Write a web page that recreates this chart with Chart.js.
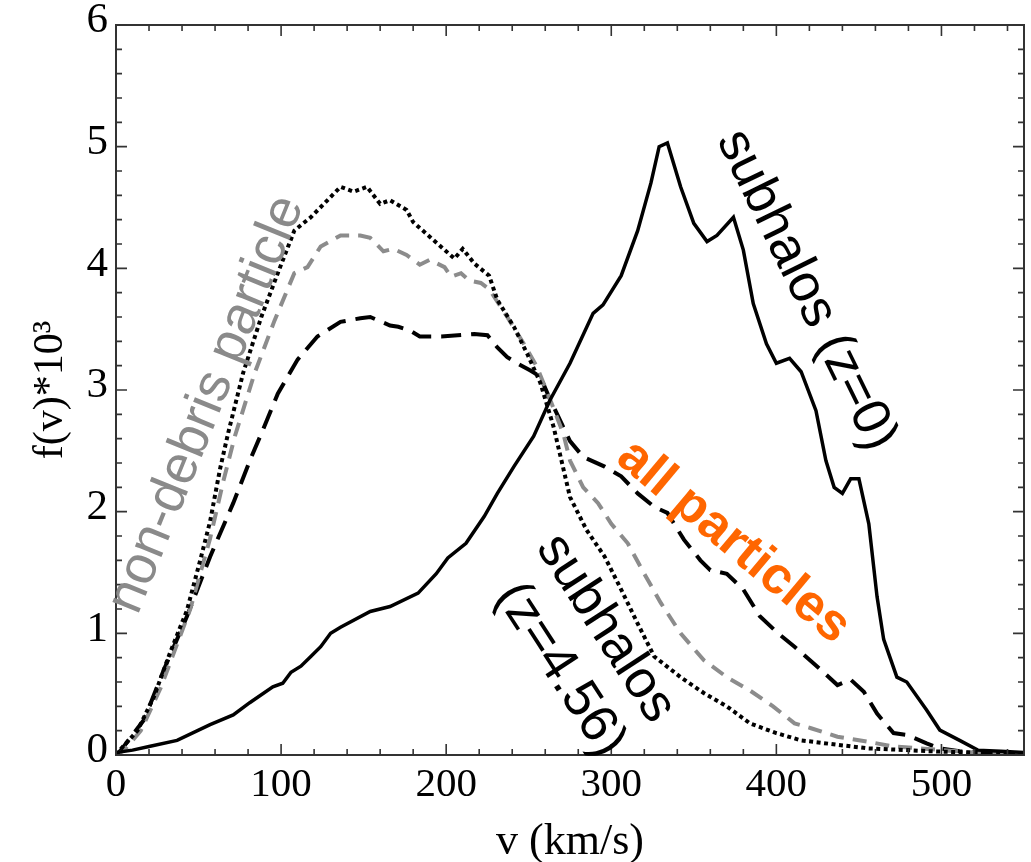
<!DOCTYPE html>
<html>
<head>
<meta charset="utf-8">
<script src="https://cdn.jsdelivr.net/npm/chart.js@4.4.1/dist/chart.umd.min.js"></script>
<style>
  html, body { margin: 0; padding: 0; background: #fff; }
  #wrap { width: 1031px; height: 862px; }
</style>
</head>
<body>
<div id="wrap"><canvas id="fvChart" width="1031" height="862"></canvas></div>
<script>
// f(v)*10^3 curves, values (v in km/s)
const subZ0V = [0, 10, 20, 37, 57, 71, 81, 95, 101, 106, 112, 118, 124, 130, 136, 154, 166, 183, 194, 201, 212, 223, 231, 241, 253, 263, 275, 289, 295, 306, 316, 324, 329, 334, 342, 350, 358, 364, 374, 380, 386, 394, 400, 408, 415, 424, 430, 435, 440, 445, 450, 456, 461, 465, 473, 479, 491, 499, 511, 522, 536, 550];
const subZ0F = [0.02, 0.04, 0.07, 0.12, 0.25, 0.33, 0.43, 0.56, 0.59, 0.68, 0.73, 0.81, 0.89, 1.0, 1.05, 1.18, 1.22, 1.33, 1.49, 1.62, 1.74, 1.96, 2.15, 2.37, 2.62, 2.92, 3.22, 3.63, 3.70, 3.94, 4.31, 4.70, 5.0, 5.03, 4.67, 4.37, 4.22, 4.27, 4.42, 4.15, 3.71, 3.38, 3.22, 3.26, 3.15, 2.83, 2.42, 2.2, 2.15, 2.27, 2.27, 1.9, 1.30, 0.95, 0.64, 0.60, 0.37, 0.205, 0.12, 0.04, 0.03, 0.02];

const subZ4V = [0, 3, 13, 23, 33, 43, 51, 57, 63, 68, 77, 88, 98, 108, 118, 136, 144, 152, 160, 166, 176, 180, 190, 205, 210, 217, 226, 231, 241, 249, 257, 265, 275, 285, 296, 306, 316, 326, 342, 356, 370, 384, 400, 415, 455, 495, 520, 550];
const subZ4F = [0, 0.05, 0.2, 0.48, 0.85, 1.19, 1.6, 1.92, 2.35, 2.65, 3.14, 3.6, 3.96, 4.31, 4.42, 4.67, 4.63, 4.67, 4.53, 4.56, 4.48, 4.38, 4.26, 4.08, 4.16, 4.04, 3.94, 3.74, 3.52, 3.30, 3.06, 2.7, 2.12, 1.85, 1.63, 1.36, 1.08, 0.81, 0.64, 0.51, 0.40, 0.26, 0.18, 0.12, 0.055, 0.03, 0.02, 0.01];

const nonDebrisV = [0, 5, 15, 27, 45, 57, 65, 72, 84, 96, 108, 116, 124, 136, 148, 154, 162, 168, 176, 184, 190, 199, 203, 209, 214, 221, 226, 237, 247, 255, 263, 271, 275, 283, 292, 300, 310, 320, 330, 342, 356, 370, 384, 398, 411, 421, 437, 455, 471, 487, 505, 520, 550];
const nonDebrisF = [0, 0.04, 0.2, 0.55, 1.2, 1.78, 2.25, 2.62, 3.14, 3.57, 3.96, 4.01, 4.18, 4.27, 4.27, 4.25, 4.14, 4.16, 4.11, 4.03, 4.07, 4.01, 3.93, 3.96, 3.90, 3.88, 3.83, 3.60, 3.38, 3.19, 2.92, 2.64, 2.42, 2.20, 2.07, 1.90, 1.74, 1.49, 1.25, 1.0, 0.78, 0.64, 0.53, 0.40, 0.26, 0.22, 0.15, 0.11, 0.07, 0.055, 0.035, 0.02, 0.01];

const allV = [0, 3, 17, 29, 43, 57, 71, 82, 88, 98, 110, 122, 136, 148, 154, 166, 171, 178, 184, 197, 217, 225, 231, 237, 243, 251, 257, 263, 269, 275, 283, 296, 306, 316, 326, 334, 344, 354, 360, 370, 380, 390, 401, 411, 427, 437, 445, 453, 461, 471, 479, 491, 499, 511, 525, 550];
const allF = [0, 0.04, 0.29, 0.70, 1.14, 1.63, 2.07, 2.45, 2.64, 2.97, 3.25, 3.44, 3.56, 3.59, 3.60, 3.53, 3.52, 3.49, 3.44, 3.44, 3.46, 3.45, 3.35, 3.27, 3.22, 3.16, 3.11, 2.92, 2.75, 2.58, 2.45, 2.37, 2.29, 2.15, 2.04, 1.99, 1.77, 1.60, 1.52, 1.49, 1.36, 1.14, 1.0, 0.89, 0.70, 0.575, 0.62, 0.52, 0.34, 0.18, 0.165, 0.096, 0.055, 0.03, 0.02, 0.01];

const xTicks = [0, 100, 200, 300, 400, 500];
const yTicks = [0, 1, 2, 3, 4, 5, 6];

function toPoints(vs, fs) {
    return vs.map((v, i) => ({ x: v, y: fs[i] }));
}

const sans = '"Liberation Sans", Arial, sans-serif';
const serif = '"Liberation Serif", "Times New Roman", serif';

// text labels placed in data coordinates
const notes = [
    { text: 'subhalos (z=0)', v: 418, f: 3.82, angle: 64, color: '#000', font: '53px ' + sans },
    { text: 'all particles', v: 374, f: 1.75, angle: 40, color: '#ff6600', font: 'bold 52px ' + sans },
    { text: 'non-debris particle', v: 55, f: 2.88, angle: -68, color: '#8a8a8a', font: '54px ' + sans },
    { text: 'subhalos', v: 296.5, f: 1.04, angle: 57, color: '#000', font: '53px ' + sans },
    { text: '(z=4.56)', v: 269, f: 0.7, angle: 57, color: '#000', font: '53px ' + sans }
];

// frame with inward ticks on all sides + the rotated labels
const framePlugin = {
    id: 'frame',
    afterDatasetsDraw(chart) {
        const { ctx, chartArea: a, scales: { x, y } } = chart;
        ctx.save();
        ctx.strokeStyle = '#333';
        ctx.lineWidth = 2;
        ctx.strokeRect(a.left, a.top, a.right - a.left, a.bottom - a.top);

        ctx.lineWidth = 1.6;
        ctx.beginPath();
        for (let v = 0; v <= 550; v += 20) {
            const px = x.getPixelForValue(v);
            const len = v % 100 === 0 ? 11 : 6;
            ctx.moveTo(px, a.bottom); ctx.lineTo(px, a.bottom - len);
            ctx.moveTo(px, a.top); ctx.lineTo(px, a.top + len);
        }
        for (let i = 0; i <= 30; i++) {
            const py = y.getPixelForValue(i / 5);
            const len = i % 5 === 0 ? 11 : 6;
            ctx.moveTo(a.left, py); ctx.lineTo(a.left + len, py);
            ctx.moveTo(a.right, py); ctx.lineTo(a.right - len, py);
        }
        ctx.stroke();

        notes.forEach(n => {
            ctx.save();
            ctx.translate(x.getPixelForValue(n.v), y.getPixelForValue(n.f));
            ctx.rotate(n.angle * Math.PI / 180);
            ctx.font = n.font;
            ctx.fillStyle = n.color;
            ctx.textAlign = 'center';
            ctx.textBaseline = 'middle';
            ctx.fillText(n.text, 0, 0);
            ctx.restore();
        });
        ctx.restore();
    }
};

new Chart(document.getElementById('fvChart'), {
    type: 'line',
    data: {
        datasets: [
            {
                label: 'subhalos (z=0)',
                data: toPoints(subZ0V, subZ0F),
                borderColor: '#000',
                borderWidth: 3.5,
                pointRadius: 0,
                tension: 0
            },
            {
                label: 'subhalos (z=4.56)',
                data: toPoints(subZ4V, subZ4F),
                borderColor: '#000',
                borderWidth: 4,
                borderDash: [4, 3.5],
                pointRadius: 0,
                tension: 0
            },
            {
                label: 'non-debris particle',
                data: toPoints(nonDebrisV, nonDebrisF),
                borderColor: '#8c8c8c',
                borderWidth: 4,
                borderDash: [14, 9],
                pointRadius: 0,
                tension: 0
            },
            {
                label: 'all particles',
                data: toPoints(allV, allF),
                borderColor: '#000',
                borderWidth: 4,
                borderDash: [20, 10],
                pointRadius: 0,
                tension: 0
            }
        ]
    },
    options: {
        responsive: false,
        animation: false,
        devicePixelRatio: 1,
        layout: { padding: { top: 25, right: 7, left: 0, bottom: 0 } },
        plugins: {
            legend: { display: false },
            tooltip: { enabled: false }
        },
        scales: {
            x: {
                type: 'linear',
                min: 0,
                max: 550,
                grid: { display: false, drawTicks: false },
                border: { display: false },
                afterBuildTicks: s => { s.ticks = xTicks.map(v => ({ value: v })); },
                afterFit: s => { s.height = 107; s.paddingRight = 0; },
                ticks: {
                    color: '#000',
                    padding: 6,
                    maxRotation: 0,
                    font: { family: serif, size: 41 }
                },
                title: {
                    display: true,
                    text: 'v (km/s)',
                    color: '#000',
                    padding: { top: 0, bottom: 0 },
                    font: { family: serif, size: 44, lineHeight: 0.9 }
                }
            },
            y: {
                type: 'linear',
                min: 0,
                max: 6,
                grid: { display: false, drawTicks: false },
                border: { display: false },
                afterBuildTicks: s => { s.ticks = yTicks.map(v => ({ value: v })); },
                afterFit: s => { s.width = 116; s.paddingTop = 0; s.paddingBottom = 0; },
                ticks: {
                    color: '#000',
                    padding: 8,
                    labelOffset: -4,
                    font: { family: serif, size: 43 }
                },
                title: {
                    display: true,
                    text: 'f(v)*10³',
                    color: '#000',
                    padding: { top: 26, bottom: 0 },
                    font: { family: serif, size: 42, lineHeight: 1.2 }
                }
            }
        }
    },
    plugins: [framePlugin]
});
</script>
</body>
</html>
